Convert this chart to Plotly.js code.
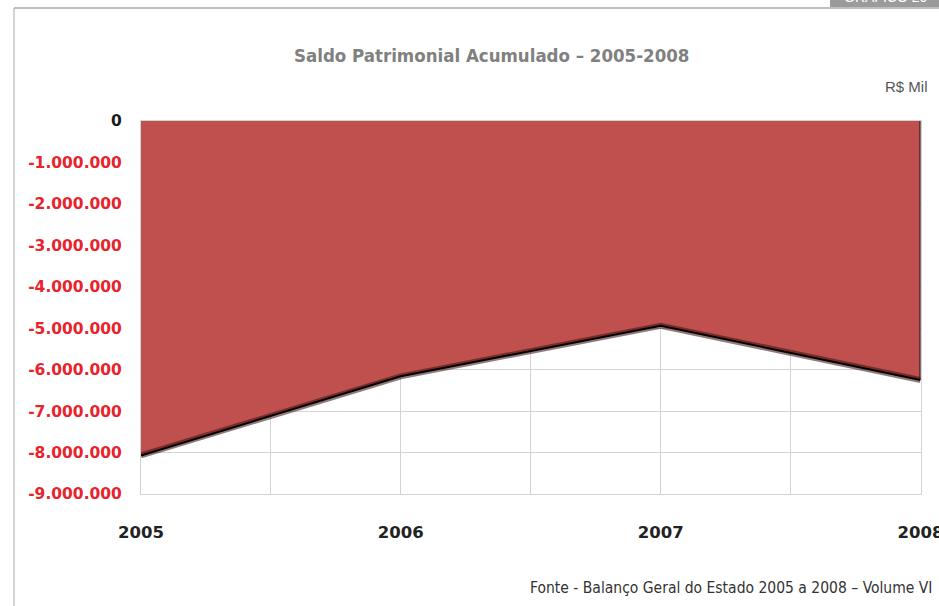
<!DOCTYPE html>
<html>
<head>
<meta charset="utf-8">
<script src="https://cdn.plot.ly/plotly-3.0.1.min.js"></script>
<style>html,body{margin:0;padding:0;background:#fff;}#chart{width:939px;height:606px;}</style>
</head>
<body>
<div id="chart"></div>
<script>
// ---- data ----
const years = [2005, 2006, 2007, 2008];
const saldo = [-8070000, -6160000, -4940000, -6250000];
const yTickValues = [0, -1000000, -2000000, -3000000, -4000000, -5000000, -6000000, -7000000, -8000000, -9000000];
const yTickLabels = ['0', '-1.000.000', '-2.000.000', '-3.000.000', '-4.000.000', '-5.000.000', '-6.000.000', '-7.000.000', '-8.000.000', '-9.000.000'];
const xTickLabels = ['2005', '2006', '2007', '2008'];
const titleText = 'Saldo Patrimonial Acumulado – 2005-2008';
const unitText = 'R$ Mil';
const sourceText = 'Fonte - Balanço Geral do Estado 2005 a 2008 – Volume VI';

const W = 939, H = 606;
const px = x => x / W;
const py = y => 1 - y / H;

const lastYear = years[years.length - 1];
const lastVal = saldo[saldo.length - 1];

const traces = [
  {
    x: years, y: saldo, type: 'scatter', mode: 'lines',
    fill: 'tozeroy', fillcolor: '#c0504d',
    line: {color: 'rgba(60,15,15,0.55)', width: 6},
    hoverinfo: 'skip', showlegend: false
  },
  {
    x: years, y: saldo, type: 'scatter', mode: 'lines',
    line: {color: '#000', width: 2},
    hoverinfo: 'skip', showlegend: false
  },
  {
    x: [lastYear, lastYear], y: [lastVal, yTickValues[0]], type: 'scatter', mode: 'lines',
    line: {color: '#111', width: 2},
    hoverinfo: 'skip', showlegend: false
  }
];

const yText = yTickLabels.map((t, i) => i === 0
  ? '<span style="color:#1a1a1a">' + t + '</span>'
  : '<span style="color:#e8232b">' + t + '</span>');

const layout = {
  width: W, height: H,
  margin: {l: 0, r: 0, t: 0, b: 0},
  paper_bgcolor: '#fff', plot_bgcolor: '#fff',
  showlegend: false,
  separators: ',.',
  xaxis: {
    domain: [px(141), px(920.5)],
    range: [years[0], lastYear],
    tickvals: years, ticktext: xTickLabels,
    showgrid: true, gridcolor: '#d3d3d3', gridwidth: 1,
    minor: {dtick: 0.5, showgrid: true, gridcolor: '#d3d3d3', gridwidth: 1},
    zeroline: false,
    showline: true, linecolor: '#d3d3d3', linewidth: 1, mirror: true,
    layer: 'below traces',
    ticks: '', ticklabelstandoff: 23, ticklabeloverflow: 'allow',
    tickfont: {family: 'DejaVu Sans', size: 16.5, color: '#222', weight: 'bold'}
  },
  yaxis: {
    domain: [py(494), py(121)],
    range: [yTickValues[yTickValues.length - 1], yTickValues[0]],
    tickvals: yTickValues, ticktext: yText,
    showgrid: true, gridcolor: '#d3d3d3', gridwidth: 1,
    zeroline: false,
    showline: true, linecolor: '#d3d3d3', linewidth: 1, mirror: true,
    layer: 'below traces',
    ticks: '', ticklabelstandoff: 15,
    tickfont: {family: 'DejaVu Sans', size: 15.5, color: '#e8232b', weight: 'bold'}
  },
  shapes: [
    {type: 'line', xref: 'paper', yref: 'paper', x0: px(14), x1: px(14), y0: py(8), y1: py(606), line: {color: '#a8a8a8', width: 1}},
    {type: 'line', xref: 'paper', yref: 'paper', x0: px(14), x1: px(939), y0: py(8), y1: py(8), line: {color: '#a8a8a8', width: 1.5}},
    {type: 'rect', xref: 'paper', yref: 'paper', x0: px(830), x1: px(939), y0: py(7), y1: py(0), fillcolor: '#9b9b9b', line: {width: 0}}
  ],
  annotations: [
    {text: '<b>' + titleText + '</b>', xref: 'paper', yref: 'paper', x: px(491), y: py(55),
     xanchor: 'center', yanchor: 'middle', showarrow: false,
     font: {family: 'DejaVu Sans Condensed', size: 18.5, color: '#808080'}},
    {text: unitText, xref: 'paper', yref: 'paper', x: px(930), y: py(86),
     xanchor: 'right', yanchor: 'middle', showarrow: false,
     font: {family: 'Liberation Sans Narrow, Liberation Sans', size: 15, color: '#555'}},
    {text: sourceText, xref: 'paper', yref: 'paper', x: px(528), y: py(588),
     xanchor: 'left', yanchor: 'middle', showarrow: false,
     font: {family: 'DejaVu Sans Condensed', size: 15.5, color: '#333'}},
    {text: 'GRÁFICO 20', xref: 'paper', yref: 'paper', x: px(842), y: py(7),
     xanchor: 'left', yanchor: 'bottom', showarrow: false,
     font: {family: 'Liberation Sans', size: 14, color: '#fff'}}
  ]
};

Plotly.newPlot('chart', traces, layout, {staticPlot: true, displayModeBar: false});
</script>
</body>
</html>
